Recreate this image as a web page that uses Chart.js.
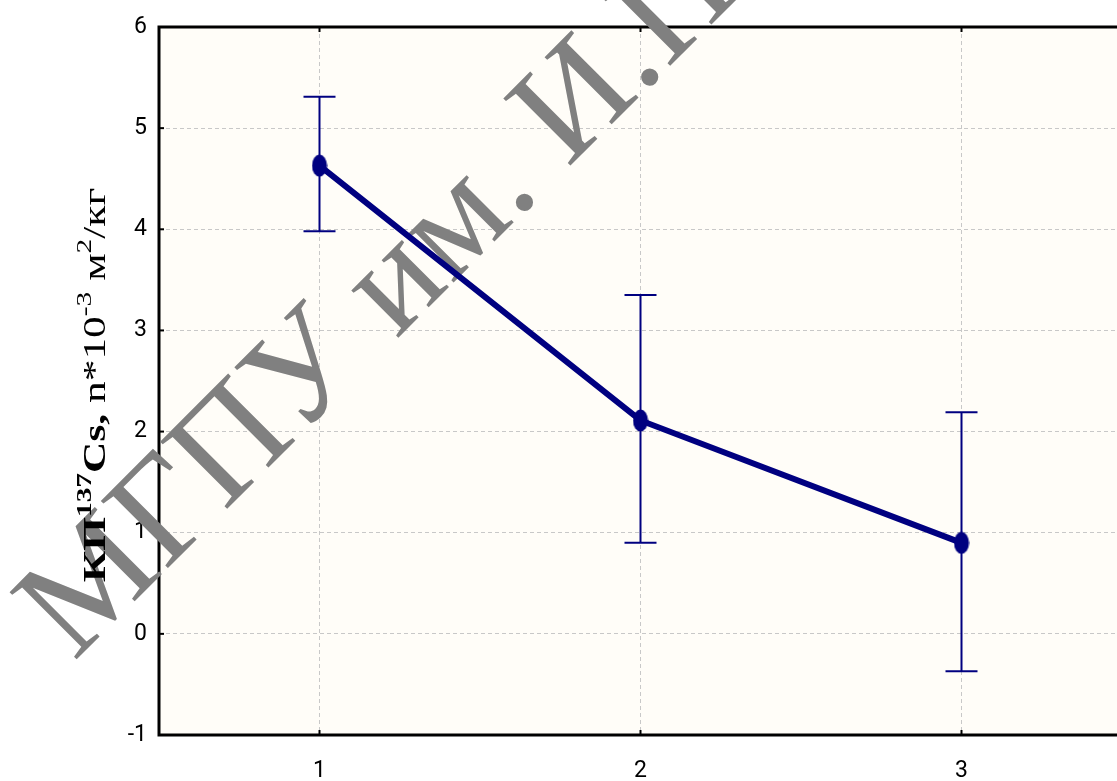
<!DOCTYPE html>
<html>
<head>
<meta charset="utf-8">
<script src="https://cdn.jsdelivr.net/npm/chart.js@4.4.1/dist/chart.umd.min.js"></script>
<style>
  html, body { margin: 0; padding: 0; background: #fff; overflow: hidden; }
  #wrap { width: 1140px; height: 781px; }
</style>
</head>
<body>
<div id="wrap"><canvas id="chart" width="1140" height="781"></canvas></div>
<script>
const groups = [1, 2, 3];
const means = [4.63, 2.11, 0.90];
const upper = [5.31, 3.35, 2.19];
const lower = [3.98, 0.90, -0.37];
const xTicks = [1, 2, 3];
const yTicks = [-1, 0, 1, 2, 3, 4, 5, 6];
const watermark = 'МГПУ им. И.П. Шамякина';

const NAVY = '#000080';
const TICK_FONT = { family: "'Liberation Sans Narrow', 'Arial Narrow', Roboto, sans-serif", size: 23 };

// oval marker, a bit taller than wide
const marker = document.createElement('canvas');
marker.width = 16; marker.height = 23;
const mctx = marker.getContext('2d');
mctx.fillStyle = NAVY;
mctx.beginPath();
mctx.ellipse(8, 11.5, 7.5, 11, 0, 0, Math.PI * 2);
mctx.fill();

const errorSets = groups.map((g, i) => ({
    data: [{ x: g, y: lower[i] }, { x: g, y: upper[i] }],
    borderColor: NAVY,
    borderWidth: 2,
    pointStyle: 'line',
    pointRadius: 16,
    pointHoverRadius: 16,
    pointBorderColor: NAVY,
    pointBorderWidth: 2,
    order: 2
}));

const meanSet = {
    data: groups.map((g, i) => ({ x: g, y: means[i] })),
    borderColor: NAVY,
    borderWidth: 6,
    pointStyle: marker,
    pointRadius: 11,
    order: 1
};

const plotBg = {
    id: 'plotBg',
    beforeDraw(chart) {
        const { ctx, chartArea: a } = chart;
        ctx.save();
        ctx.fillStyle = '#fffdf8';
        ctx.fillRect(a.left, a.top, a.right - a.left, a.bottom - a.top);
        ctx.restore();
    },
    beforeDatasetsDraw(chart) {
        const { ctx, chartArea: a } = chart;
        ctx.save();
        // frame
        ctx.strokeStyle = '#000';
        ctx.lineWidth = 3;
        ctx.strokeRect(a.left, a.top, a.right - a.left, a.bottom - a.top);
        // small inner ticks
        ctx.lineWidth = 2;
        chart.scales.y.ticks.forEach(t => {
            const y = chart.scales.y.getPixelForValue(t.value);
            ctx.beginPath(); ctx.moveTo(a.left, y); ctx.lineTo(a.left + 5, y); ctx.stroke();
        });
        chart.scales.x.ticks.forEach(t => {
            const x = chart.scales.x.getPixelForValue(t.value);
            ctx.beginPath(); ctx.moveTo(x, a.bottom); ctx.lineTo(x, a.bottom - 5); ctx.stroke();
            ctx.beginPath(); ctx.moveTo(x, a.top); ctx.lineTo(x, a.top + 5); ctx.stroke();
        });
        // watermark
        ctx.font = "145px 'Liberation Serif', 'Times New Roman', serif";
        ctx.fillStyle = '#808080';
        ctx.textBaseline = 'alphabetic';
        const prefix = ctx.measureText('МГПУ им').width + ctx.measureText('.').width / 2;
        const c = Math.SQRT1_2;
        const bx = 524 - c * prefix + 5;
        const by = 202 + c * prefix + 5;
        ctx.translate(bx, by);
        ctx.rotate(-Math.PI / 4);
        ctx.fillText(watermark, 0, 0);
        ctx.restore();
    },
    afterDraw(chart) {
        const { ctx } = chart;
        const serif = "'Liberation Serif', 'Times New Roman', serif";
        const runs = [
            ['КП', 'bold 31px ' + serif, 0],
            ['137', 'bold 21px ' + serif, -14],
            ['Cs,', 'bold 31px ' + serif, 0],
            [' n*10', '31px ' + serif, 0],
            ['-3', '21px ' + serif, -14],
            [' м', '31px ' + serif, 0],
            ['2', '21px ' + serif, -14],
            ['/кг', '31px ' + serif, 0]
        ];
        const stretch = 1.4;
        ctx.save();
        ctx.fillStyle = '#000';
        ctx.textBaseline = 'alphabetic';
        let total = 0;
        runs.forEach(r => { ctx.font = r[1]; total += ctx.measureText(r[0]).width; });
        ctx.translate(105, 385);
        ctx.rotate(-Math.PI / 2);
        ctx.scale(stretch, 1);
        let x = -total / 2;
        runs.forEach(r => {
            ctx.font = r[1];
            ctx.fillText(r[0], x, r[2]);
            x += ctx.measureText(r[0]).width;
        });
        ctx.restore();
    }
};

new Chart(document.getElementById('chart'), {
    type: 'line',
    data: { datasets: [meanSet, ...errorSets] },
    options: {
        responsive: false,
        animation: false,
        events: [],
        layout: { padding: { top: 27, right: 11, left: 0, bottom: 0 } },
        plugins: { legend: { display: false }, tooltip: { enabled: false } },
        scales: {
            x: {
                type: 'linear',
                min: 0.5,
                max: 3.5,
                afterBuildTicks: s => { s.ticks = xTicks.map(v => ({ value: v })); },
                afterFit: s => { s.height = 46; },
                ticks: { color: '#000', font: TICK_FONT, padding: 22 },
                grid: { color: '#c8c8c8', lineWidth: 1, drawTicks: false },
                border: { display: false, dash: [4, 3] }
            },
            y: {
                min: -1,
                max: 6,
                afterBuildTicks: s => { s.ticks = yTicks.map(v => ({ value: v })); },
                afterFit: s => { s.width = 159; },
                ticks: { color: '#000', font: TICK_FONT, padding: 12 },
                grid: { color: '#c8c8c8', lineWidth: 1, drawTicks: false },
                border: { display: false, dash: [4, 3] }
            }
        }
    },
    plugins: [plotBg]
});
</script>
</body>
</html>
